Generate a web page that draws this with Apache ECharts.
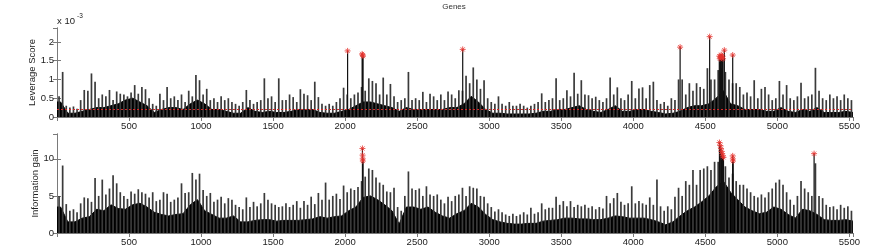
<!DOCTYPE html>
<html><head><meta charset="utf-8">
<script src="https://cdn.jsdelivr.net/npm/echarts@6/dist/echarts.min.js"></script>
<style>html,body{margin:0;padding:0;background:#fff}#c{width:872px;height:247px}</style>
</head><body><div id="c"></div>
<script>
// ---- data ----
const GENE_MAX = 5525;
const PEAK_BIN = 25;   // genes per spike bin
const BASE_BIN = 50;   // genes per base-level bin
const xTickStep = 500;

// Leverage score (x 1e-3): highest spike per 25-gene bin
const levPeak = [
 0.55,1.2,0.3,0.25,0.28,0.22,0.45,0.72,0.7,1.16,0.94,0.5,0.6,0.55,0.72,0.45,0.68,0.62,0.6,0.55,
 0.65,0.85,0.62,0.8,0.74,0.5,0.35,0.3,0.62,0.45,0.8,0.5,0.55,0.45,0.6,0.4,0.7,0.55,1.12,0.98,
 0.6,0.75,0.45,0.5,0.4,0.55,0.45,0.5,0.4,0.35,0.3,0.4,0.72,0.45,0.35,0.4,0.45,1.03,0.5,0.55,
 0.4,1.03,0.45,0.45,0.6,0.53,0.4,0.74,0.62,0.58,0.45,0.94,0.53,0.35,0.3,0.35,0.3,0.4,0.5,0.78,
 0.6,0.5,0.6,0.65,0.8,0.7,1.03,0.96,0.9,0.6,1.05,0.6,0.88,0.55,0.4,0.45,0.5,1.2,0.45,0.5,
 0.45,0.67,0.4,0.62,0.55,0.45,0.6,0.45,0.68,0.6,0.5,0.71,0.7,1.1,0.9,1.32,1.0,0.75,0.98,0.5,
 0.4,0.35,0.55,0.35,0.3,0.4,0.3,0.3,0.35,0.3,0.25,0.3,0.35,0.4,0.63,0.4,0.45,0.5,1.03,0.45,
 0.5,0.71,0.55,1.18,0.62,0.98,0.6,0.58,0.5,0.54,0.45,0.4,0.5,1.05,0.6,0.79,0.5,0.45,0.6,0.96,
 0.5,0.76,0.79,0.5,0.85,0.94,0.45,0.35,0.4,0.3,0.5,0.45,1.0,1.0,0.6,0.9,0.7,0.9,0.8,0.75,
 1.3,1.0,1.0,1.25,1.3,1.2,1.0,0.9,0.9,0.8,0.6,0.65,0.55,0.98,0.5,0.75,0.8,0.6,0.45,0.5,
 0.96,0.6,0.85,0.5,0.45,0.55,0.91,0.5,0.55,0.6,1.31,0.7,0.5,0.45,0.6,0.5,0.55,0.45,0.6,0.5,
 0.45
];
// Leverage score (x 1e-3): dense fill level per 50-gene bin
const levBase = [
 0.4,0.1,0.1,0.15,0.2,0.25,0.25,0.3,0.35,0.45,
 0.5,0.4,0.3,0.12,0.2,0.25,0.25,0.2,0.35,0.45,
 0.35,0.2,0.2,0.15,0.1,0.1,0.25,0.15,0.12,0.15,
 0.12,0.12,0.15,0.2,0.2,0.2,0.12,0.1,0.1,0.15,
 0.2,0.3,0.4,0.4,0.35,0.3,0.25,0.15,0.25,0.2,
 0.2,0.2,0.2,0.2,0.25,0.25,0.35,0.55,0.4,0.2,
 0.1,0.1,0.08,0.08,0.08,0.08,0.1,0.15,0.15,0.2,
 0.2,0.25,0.3,0.2,0.15,0.12,0.2,0.3,0.15,0.15,
 0.2,0.2,0.15,0.12,0.08,0.1,0.15,0.25,0.3,0.3,
 0.35,0.5,0.7,0.35,0.3,0.2,0.2,0.2,0.15,0.15,
 0.25,0.15,0.12,0.2,0.15,0.25,0.12,0.12,0.12,0.15,
 0.12
];
// selected genes (red asterisks): [gene, leverage x 1e-3]
const levStars = [
 [2017,1.76],[2118,1.68],[2121,1.65],[2124,1.62],[2816,1.80],[4325,1.86],[4530,2.14],
 [4597,1.62],[4601,1.55],[4606,1.60],[4610,1.66],[4614,1.58],[4619,1.62],[4623,1.55],
 [4632,1.78],[4690,1.65]
];
const levThreshold = 0.2;

// Information gain: highest spike per 25-gene bin
const infoPeak = [
 5.0,9.1,3.9,3.0,3.2,2.8,4.0,4.8,4.7,4.2,7.4,5.0,7.2,5.2,6.0,7.8,6.7,5.5,5.0,4.6,
 5.6,5.3,5.9,5.5,5.3,4.8,5.5,4.3,4.5,5.5,5.3,4.2,4.5,4.8,6.7,5.4,5.5,8.1,7.2,8.0,
 5.8,5.0,5.4,4.2,4.5,4.9,4.0,4.7,4.5,3.8,3.5,3.2,4.8,3.5,4.2,3.6,4.0,5.4,4.5,4.0,
 3.8,3.5,3.6,4.0,3.5,3.8,4.3,3.4,4.3,3.8,4.9,3.9,5.4,4.5,6.8,4.5,5.0,5.3,4.6,6.4,
 5.5,6.0,5.8,6.2,7.0,7.6,8.7,8.5,7.5,6.8,6.5,5.6,5.5,6.1,3.5,3.0,5.0,8.3,6.0,5.8,
 6.0,5.0,6.3,5.2,5.0,5.2,4.5,4.0,4.9,4.3,5.0,5.2,6.1,5.0,6.3,6.1,6.0,5.0,4.9,4.0,
 3.5,2.9,3.2,2.8,2.5,2.3,2.6,2.3,2.5,2.8,2.5,3.4,2.6,2.8,4.0,3.2,3.4,3.4,4.9,3.8,
 4.3,3.6,4.3,3.5,3.8,3.6,3.8,3.4,3.6,3.2,3.5,3.3,5.0,4.0,4.7,5.4,4.2,3.8,4.0,6.3,
 4.0,4.3,4.0,3.8,4.8,3.8,7.2,3.6,3.0,3.6,3.2,4.9,6.1,5.0,7.0,6.5,8.5,6.5,8.5,8.7,
 9.0,8.5,9.6,9.6,10.0,9.0,7.5,8.0,7.0,6.5,6.5,6.0,5.5,5.0,4.8,5.2,4.8,5.5,6.0,6.8,
 7.2,6.5,5.5,4.5,3.8,5.0,7.0,6.0,5.5,5.0,9.4,5.0,4.7,3.8,3.5,3.6,3.2,3.8,3.4,3.6,
 3.0
];
// Information gain: dense fill level per 50-gene bin
const infoBase = [
 3.5,1.5,1.5,2.0,2.2,3.2,3.0,3.8,3.3,3.2,
 3.8,4.0,3.5,2.8,2.5,2.3,2.5,2.6,3.8,4.5,
 3.0,2.5,2.0,2.0,2.3,1.5,1.5,1.7,1.8,1.8,
 1.6,1.7,1.7,1.7,1.8,1.9,2.2,2.0,2.2,2.3,
 3.0,3.5,4.8,5.0,4.5,3.8,3.0,1.2,3.5,3.5,
 3.2,3.5,2.8,2.3,2.0,2.6,3.0,4.0,3.5,2.5,
 1.8,1.5,1.3,1.2,1.2,1.3,1.3,1.6,1.7,1.8,
 2.0,2.0,1.9,1.9,1.8,1.8,2.0,2.3,2.2,2.0,
 2.0,2.0,1.8,1.5,1.1,1.5,2.3,3.0,3.5,4.2,
 5.0,6.2,7.0,5.5,4.5,3.5,3.0,2.6,2.8,3.5,
 3.2,2.5,2.0,3.2,3.0,2.5,1.8,1.7,1.7,1.8,
 1.6
];
const infoStars = [
 [2120,11.4],[2121,10.5],[2122,10.0],[2123,9.7],
 [4598,12.2],[4604,11.8],[4609,11.4],[4613,11.0],[4617,10.7],[4621,10.4],[4626,10.2],
 [4690,10.4],[4691,10.0],[4692,9.7],[5255,10.7]
];

// ---- build chart ----
const FONT = '"Liberation Sans", Arial, Helvetica, sans-serif';
const AX = '#7a7a7a';
function binned(arr, size) {
  return arr.map((v, i) => [i * size + size / 2, v]);
}
function baseLine(arr) {
  const d = binned(arr, BASE_BIN);
  d.unshift([0, arr[0]]);
  d.push([GENE_MAX, arr[arr.length - 1]]);
  return d;
}
const ASTER = 'path://M5 0L5 10M0 5L10 5M1.6 1.6L8.4 8.4M8.4 1.6L1.6 8.4';

function xAx(grid, pos, labels) {
  return {
    gridIndex: grid, type: 'value', position: pos, min: 0, max: GENE_MAX, interval: xTickStep,
    axisLine: {show: true, lineStyle: {color: AX, width: 1}},
    axisTick: {show: true, inside: true, length: 4, lineStyle: {color: AX}},
    axisLabel: {show: labels, fontFamily: FONT, fontSize: 9.5, color: '#222', margin: 4,
      showMinLabel: false, showMaxLabel: false,
      formatter: v => (v > 0 && v % xTickStep === 0) ? String(v) : ''},
    splitLine: {show: false}
  };
}
function yAx(grid, pos, max, step, labels) {
  return {
    gridIndex: grid, type: 'value', position: pos, min: 0, max: max, interval: step,
    axisLine: {show: true, lineStyle: {color: AX, width: 1}},
    axisTick: {show: true, inside: true, length: 4, lineStyle: {color: AX}},
    axisLabel: {show: labels, fontFamily: FONT, fontSize: 9.5, color: '#222', margin: 3,
      showMaxLabel: false,
      formatter: v => Math.abs(v / step - Math.round(v / step)) < 1e-6 ? String(+v.toFixed(2)) : ''},
    splitLine: {show: false}
  };
}
function panel(xi, yi, base, peaks, stars, extra) {
  const s = [
    {type: 'line', xAxisIndex: xi, yAxisIndex: yi, data: baseLine(base), showSymbol: false,
     lineStyle: {color: '#000', width: 1}, areaStyle: {color: '#000', opacity: 1}, z: 2, silent: true},
    {type: 'bar', xAxisIndex: xi, yAxisIndex: yi, data: binned(peaks, PEAK_BIN), barWidth: 1.7, barGap: '-100%',
     itemStyle: {color: '#3a3a3a'}, z: 3, silent: true},
    {type: 'bar', xAxisIndex: xi, yAxisIndex: yi, data: stars, barWidth: 1.2, barGap: '-100%',
     itemStyle: {color: '#111'}, z: 4, silent: true},
    {type: 'scatter', xAxisIndex: xi, yAxisIndex: yi, data: stars, symbol: ASTER, symbolSize: 6,
     itemStyle: {color: 'rgba(0,0,0,0)', borderColor: '#e5322d', borderWidth: 1}, z: 10, silent: true}
  ];
  if (extra) Object.assign(s[1], extra);
  return s;
}

const chart = echarts.init(document.getElementById('c'), null, {renderer: 'canvas'});
chart.setOption({
  animation: false,
  backgroundColor: '#fff',
  grid: [
    {left: 57, top: 28, width: 796, height: 89},
    {left: 57, top: 134, width: 796, height: 99}
  ],
  xAxis: [xAx(0, 'bottom', true), xAx(0, 'top', false), xAx(1, 'bottom', true), xAx(1, 'top', false)],
  yAxis: [yAx(0, 'left', 2.37, 0.5, true), yAx(0, 'right', 2.37, 0.5, false),
          yAx(1, 'left', 13.35, 5, true), yAx(1, 'right', 13.35, 5, false)],
  series: panel(0, 0, levBase, levPeak, levStars, {
      markLine: {silent: true, symbol: 'none', label: {show: false}, z: 8,
        lineStyle: {color: '#d02828', type: [2, 2], width: 1}, data: [{yAxis: levThreshold}]}})
    .concat(panel(2, 2, infoBase, infoPeak, infoStars)),
  graphic: [
    {type: 'text', x: 454, y: 7, style: {text: 'Genes', fontFamily: FONT, fontSize: 8, fill: '#333', align: 'center', verticalAlign: 'middle'}},
    {type: 'text', x: 57, y: 21, style: {text: 'x 10', fontFamily: FONT, fontSize: 9.5, fill: '#222', align: 'left', verticalAlign: 'middle'}},
    {type: 'text', x: 77, y: 16, style: {text: '-3', fontFamily: FONT, fontSize: 6.5, fill: '#222', align: 'left', verticalAlign: 'middle'}},
    {type: 'text', x: 32, y: 72.5, rotation: Math.PI / 2, style: {text: 'Leverage Score', fontFamily: FONT, fontSize: 9.5, fill: '#222', align: 'center', verticalAlign: 'middle'}},
    {type: 'text', x: 35, y: 183.5, rotation: Math.PI / 2, style: {text: 'Information gain', fontFamily: FONT, fontSize: 9.5, fill: '#222', align: 'center', verticalAlign: 'middle'}}
  ]
});
</script></body></html>
